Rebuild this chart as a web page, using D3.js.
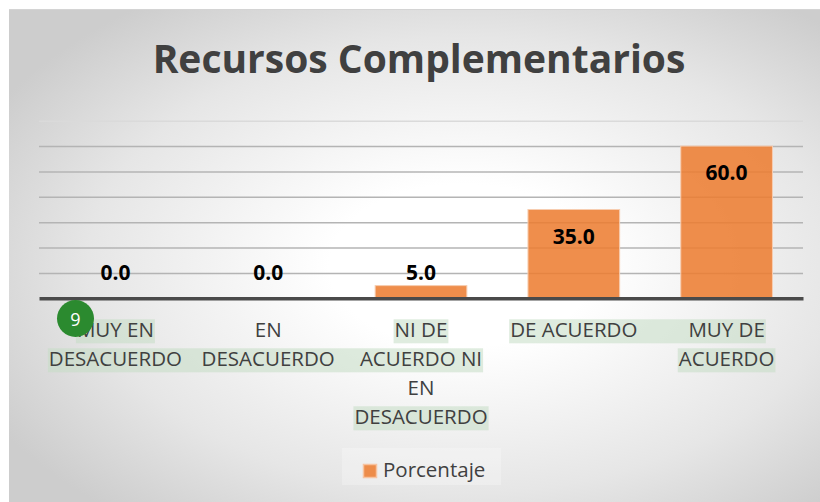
<!DOCTYPE html>
<html>
<head>
<meta charset="utf-8">
<script src="https://cdn.jsdelivr.net/npm/d3@7"></script>
<style>
  html, body { margin: 0; padding: 0; background: #fff; }
  svg { display: block; }
</style>
</head>
<body>
<div class="svg"></div>
<script>
// chart data
const categories = ["MUY EN DESACUERDO", "EN DESACUERDO", "NI DE ACUERDO NI EN DESACUERDO", "DE ACUERDO", "MUY DE ACUERDO"];
const categoryLines = [
  ["MUY EN", "DESACUERDO"],
  ["EN", "DESACUERDO"],
  ["NI DE", "ACUERDO NI", "EN", "DESACUERDO"],
  ["DE ACUERDO"],
  ["MUY DE", "ACUERDO"]
];
const porcentaje = [0.0, 0.0, 5.0, 35.0, 60.0];
const gridTicks = [10, 20, 30, 40, 50, 60, 70];
const seriesName = "Porcentaje";
const title = "Recursos Complementarios";
// green highlight bands seen behind some labels: [fromCat, toCat, line]
const highlights = [[0, 0, 0], [0, 2, 1], [2, 2, 0], [2, 2, 3], [3, 4, 0], [4, 4, 1]];

const width = 820, height = 502;
const margin = {left: 39, right: 17, top: 120.7, bottom: 203.7};
const font = "'Open Sans', 'Noto Sans', sans-serif";

let svg = d3.select('.svg').append('svg').attr('width', width).attr('height', height);

// background radial gradient
let defs = svg.append('defs');
let grad = defs.append('radialGradient').attr('id', 'bg')
  .attr('cx', 0.56).attr('cy', 0.52).attr('r', 0.66);
grad.append('stop').attr('offset', 0).attr('stop-color', '#ffffff');
grad.append('stop').attr('offset', 0.25).attr('stop-color', '#ffffff');
grad.append('stop').attr('offset', 0.7).attr('stop-color', '#e6e6e6');
grad.append('stop').attr('offset', 1).attr('stop-color', '#cdcdcd');

svg.append('rect').attr('x', 9).attr('y', 9).attr('width', width - 9).attr('height', height - 9)
  .attr('fill', 'url(#bg)');
svg.append('line').attr('x1', 9).attr('x2', width).attr('y1', 9.5).attr('y2', 9.5)
  .attr('stroke', '#d4d4d4').attr('stroke-width', 1);

svg.append('text')
  .attr('x', 419).attr('y', 73)
  .attr('text-anchor', 'middle')
  .attr('font-family', font).attr('font-weight', 700).attr('font-size', 39)
  .attr('fill', '#404040')
  .text(title);

let x = d3.scaleBand()
  .domain(categories)
  .range([margin.left, width - margin.right])
  .paddingInner(0.4)
  .paddingOuter(0.2);
let y = d3.scaleLinear()
  .domain([0, 70])
  .range([height - margin.bottom, margin.top]);

// gridlines
let grid = svg.append('g')
  .attr('transform', 'translate(' + margin.left + ',0)')
  .call(d3.axisLeft(y).tickValues(gridTicks).tickSize(-(width - margin.left - margin.right)).tickFormat(''));
grid.select('.domain').remove();
grid.selectAll('.tick line')
  .attr('stroke', d => d === 70 ? '#dadada' : '#b4b4b4')
  .attr('stroke-width', 1.6);

// bars
svg.append('g').selectAll('rect').data(porcentaje).enter().append('rect')
  .attr('x', (d, i) => x(categories[i]))
  .attr('y', d => y(d))
  .attr('width', x.bandwidth())
  .attr('height', d => y(0) - y(d))
  .attr('fill', '#ED7D31')
  .attr('fill-opacity', 0.87)
  .attr('stroke', '#f7cdb0')
  .attr('stroke-width', 1);

// x axis
let axisX = svg.append('g')
  .attr('transform', 'translate(0,' + y(0) + ')')
  .call(d3.axisBottom(x).tickSize(0).tickFormat(''));
axisX.select('.domain').attr('stroke', '#4a4a4a').attr('stroke-width', 3.6);

// category labels, wrapped as in the picture
let labelG = svg.append('g');
let labels = labelG.selectAll('text').data(categories).enter().append('text')
  .attr('text-anchor', 'middle')
  .attr('font-family', font).attr('font-size', 20.5)
  .attr('fill', '#404040');
labels.each(function (d, i) {
  let t = d3.select(this);
  categoryLines[i].forEach((line, j) => {
    t.append('tspan')
      .attr('x', x(d) + x.bandwidth() / 2)
      .attr('y', y(0) + 39 + j * 29)
      .text(line);
  });
});

// highlight bands behind the labels
let hl = labelG.insert('g', 'text');
highlights.forEach(h => {
  let a = labels.filter((d, i) => i === h[0]).selectAll('tspan').nodes()[h[2]].getBBox();
  let b = labels.filter((d, i) => i === h[1]).selectAll('tspan').nodes()[h[2]].getBBox();
  hl.append('rect')
    .attr('x', a.x - 1).attr('width', b.x + b.width - a.x + 2)
    .attr('y', y(0) + 39 + h[2] * 29 - 18).attr('height', 24)
    .attr('fill', '#c4dcc4').attr('fill-opacity', 0.55);
});

// value labels
svg.append('g').selectAll('text').data(porcentaje).enter().append('text')
  .attr('x', (d, i) => x(categories[i]) + x.bandwidth() / 2)
  .attr('y', d => Math.min(y(d) + 34, y(0) - 18))
  .attr('text-anchor', 'middle')
  .attr('font-family', font).attr('font-weight', 700).attr('font-size', 21)
  .attr('fill', '#000')
  .text(d => d.toFixed(1));

// legend
let legend = svg.append('g');
legend.append('rect').attr('x', 342).attr('y', 448).attr('width', 159).attr('height', 37)
  .attr('fill', '#ffffff').attr('fill-opacity', 0.25);
legend.append('rect').attr('x', 363.5).attr('y', 464.5).attr('width', 13).attr('height', 13)
  .attr('fill', '#ED7D31').attr('fill-opacity', 0.87)
  .attr('stroke', '#f7c3a0').attr('stroke-width', 1.5);
legend.append('text').attr('x', 383).attr('y', 477)
  .attr('font-family', font).attr('font-size', 20.5).attr('fill', '#404040')
  .text(seriesName);

// green badge over the first label
let badge = svg.append('g').attr('transform', 'translate(75.5,318.5)');
badge.append('circle').attr('r', 18.5).attr('fill', '#2b8a2f');
badge.append('text').attr('y', 7).attr('text-anchor', 'middle')
  .attr('font-family', font).attr('font-size', 18).attr('fill', '#fff').text('9');
</script>
</body>
</html>
